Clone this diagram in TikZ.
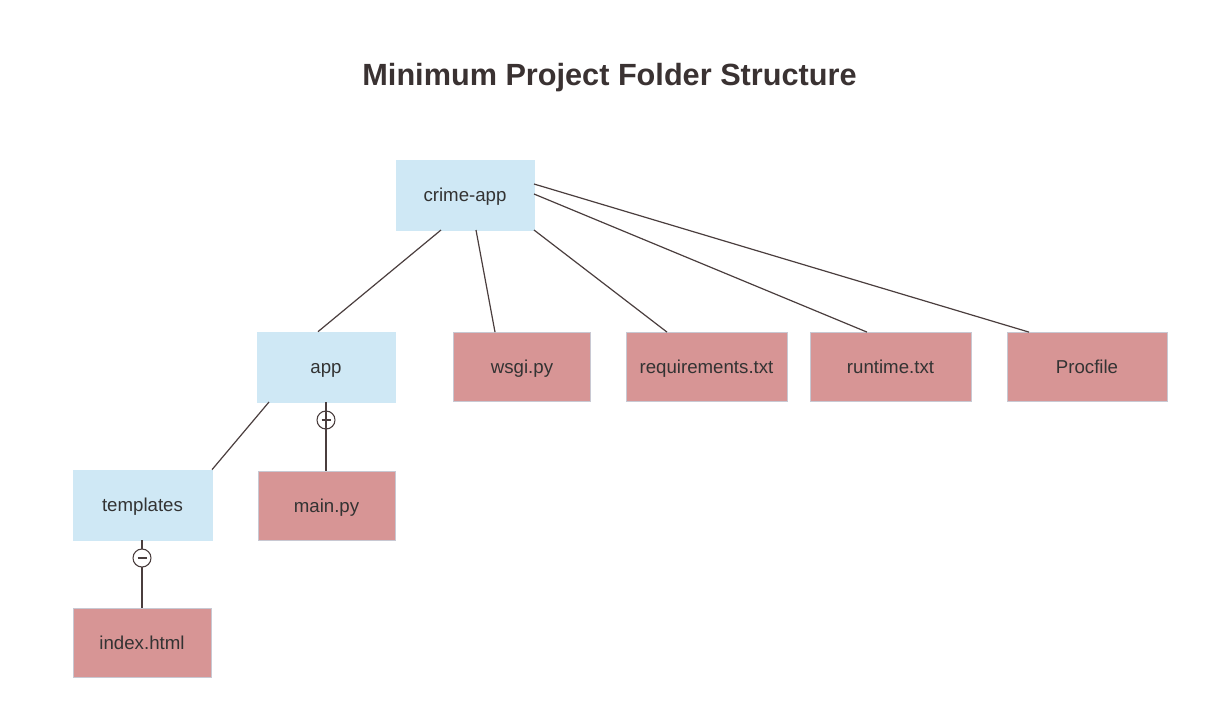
\documentclass[tikz,border=0pt]{standalone}
\usepackage{fontspec}
\setmainfont{Liberation Sans}
\begin{document}
\begin{tikzpicture}[x=0.75pt,y=-0.75pt,
  folder/.style={fill=folderblue,draw=folderblue,line width=0.5pt,minimum width=138*0.75pt,minimum height=70*0.75pt,inner sep=0pt,text height=10pt,text depth=0pt,font=\fontsize{14}{16}\selectfont,text=txt},
  filebox/.style={fill=filered,draw=boxedge,line width=0.6pt,minimum height=69*0.75pt,inner sep=0pt,text height=10pt,text depth=0pt,font=\fontsize{14}{16}\selectfont,text=txt},
  link/.style={draw=linkc,line width=0.9pt},
  marker/.style={circle,draw=linkc,line width=0.8pt,minimum size=18*0.75pt,inner sep=0pt}]
\definecolor{folderblue}{HTML}{CFE8F5}
\definecolor{filered}{HTML}{D79595}
\definecolor{boxedge}{HTML}{C8C8D2}
\definecolor{linkc}{HTML}{4A3E3E}
\definecolor{txt}{HTML}{333333}
\definecolor{titlec}{HTML}{3A3232}
\useasboundingbox[fill=white] (0,0) rectangle (1210,726);
\node[font=\fontsize{23}{26}\selectfont\bfseries,text=titlec,anchor=base,inner sep=0pt] (title) at (609.5,85) {Minimum Project Folder Structure};

\node[folder] (crime) at (465,195) {crime-app};
\node[folder] (app) at (326,367) {app};
\node[folder,minimum width=139*0.75pt] (templates) at (142.5,505) {templates};
\node[filebox,minimum width=137*0.75pt] (wsgi) at (522,367) {wsgi.py};
\node[filebox,minimum width=161*0.75pt] (req) at (706.5,367) {requirements.txt};
\node[filebox,minimum width=161*0.75pt] (runtime) at (890.5,367) {runtime.txt};
\node[filebox,minimum width=160*0.75pt] (proc) at (1087,367) {Procfile};
\node[filebox,minimum width=137*0.75pt] (main) at (326.5,505.5) {main.py};
\node[filebox,minimum width=138*0.75pt] (index) at (142,643) {index.html};

\coordinate (c1) at (441,230);
\coordinate (c2) at (476,230);
\coordinate (c3) at (534,230);
\coordinate (c4) at (534,194);
\coordinate (c5) at (534,184);
\draw[link] (c1) -- (app.north -| 318,0);
\draw[link] (c2) -- (wsgi.north -| 495,0);
\draw[link] (c3) -- (req.north -| 667,0);
\draw[link] (c4) -- (runtime.north -| 867,0);
\draw[link] (c5) -- (proc.north -| 1029,0);
\coordinate (a1) at (269,402);
\draw[link] (a1) -- (templates.north -| 212,0);

\draw[link] (app.south -| 326,0) -- (main.north -| 326,0);
\node[marker] (m1) at (326,420) {};
\draw[linkc,line width=0.8pt] ([xshift=-4.5*0.75pt]m1.center) -- ([xshift=4.5*0.75pt]m1.center);

\draw[link] (templates.south -| 142,0) -- (index.north -| 142,0);
\node[marker,fill=white] (m2) at (142,558) {};
\draw[linkc,line width=0.8pt] ([xshift=-4.5*0.75pt]m2.center) -- ([xshift=4.5*0.75pt]m2.center);
\end{tikzpicture}
\end{document}
